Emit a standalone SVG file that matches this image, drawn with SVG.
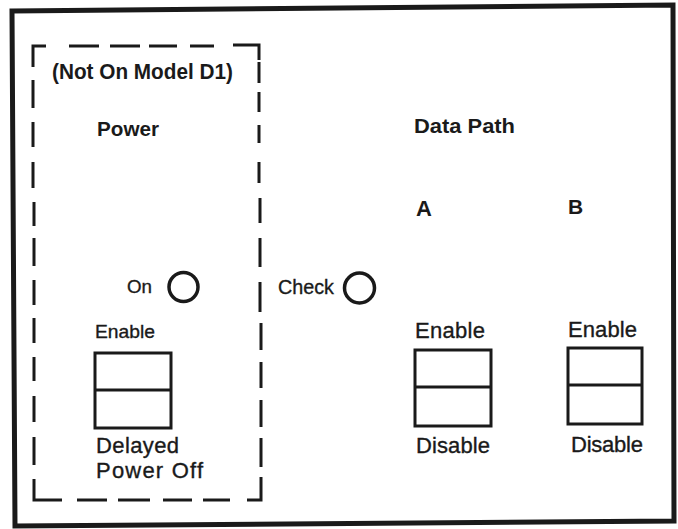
<svg xmlns="http://www.w3.org/2000/svg" width="678" height="529" viewBox="0 0 678 529">
<style>
.frame{fill:none;stroke:#1a1a1a;stroke-width:5;stroke-linejoin:miter}
.dash{fill:none;stroke:#1a1a1a;stroke-width:3;stroke-linecap:butt}
.sw{fill:#fff;stroke:#1a1a1a;stroke-width:3}
.lamp{fill:none;stroke:#1a1a1a;stroke-width:3.5}
.hd{font-family:"Liberation Sans",Arial,sans-serif;font-weight:bold;fill:#1a1a1a}
.lb{font-family:"Liberation Sans",Arial,sans-serif;fill:#1a1a1a;stroke:#1a1a1a;stroke-width:0.35}
</style>
<rect x="0" y="0" width="678" height="529" fill="#fff"/>
<path class="frame" d="M12,11 L673,5 L674,521 L15,526 Z"/>
<g id="power-section">
  <path class="dash" d="M33,67 V46 H46 M69,46 H99 M110,46 H140 M149,46 H177 M190,46 H214 M233,45 H259 V60
  M33,80 V108 M33,122 V147 M33,162 V188 M34,202 V226 M34,238 V266 M34,280 V305 M34,318 V343 M34,357 V381 M34,396 V422 M34,437 V465 M34,479 V500 H62
  M77,500 H107 M118,500 H150 M163,500 H192 M203,500 H230 M247,500 H261 V477
  M259,62 V83 M259,92 V112 M259,125 V143 M259,162 V183 M260,198 V223 M260,238 V267 M260,282 V312 M261,323 V350 M261,362 V388 M261,400 V427 M261,438 V467"/>
  <text class="hd" x="52" y="79" font-size="22" textLength="181" lengthAdjust="spacingAndGlyphs">(Not On Model D1)</text>
  <text class="hd" x="97" y="136" font-size="21" textLength="62" lengthAdjust="spacingAndGlyphs">Power</text>
  <g id="on-lamp">
    <text class="lb" x="127" y="293" font-size="18.5" textLength="25" lengthAdjust="spacingAndGlyphs">On</text>
    <circle class="lamp" cx="183.5" cy="287" r="14.5"/>
  </g>
  <g id="power-switch">
    <text class="lb" x="95" y="338" font-size="19" textLength="60" lengthAdjust="spacingAndGlyphs">Enable</text>
    <rect class="sw" x="95" y="353" width="76" height="75"/>
    <line class="sw" x1="95" y1="390" x2="171" y2="390"/>
    <text class="lb" x="96" y="453" font-size="22" textLength="83">Delayed</text>
    <text class="lb" x="96" y="478" font-size="22" textLength="107">Power Off</text>
  </g>
</g>
<g id="check-lamp">
  <text class="lb" x="278" y="294" font-size="20" textLength="56" lengthAdjust="spacingAndGlyphs">Check</text>
  <circle class="lamp" cx="359.5" cy="288" r="15"/>
</g>
<g id="data-path">
  <text class="hd" x="414" y="133" font-size="21" textLength="101" lengthAdjust="spacingAndGlyphs">Data Path</text>
  <g id="path-a">
    <text class="hd" x="416" y="216" font-size="22">A</text>
    <text class="lb" x="415" y="338" font-size="22" textLength="70">Enable</text>
    <rect class="sw" x="415" y="350" width="76" height="76"/>
    <line class="sw" x1="415" y1="387" x2="491" y2="387"/>
    <text class="lb" x="416" y="453" font-size="22" textLength="74">Disable</text>
  </g>
  <g id="path-b">
    <text class="hd" x="568" y="214" font-size="21">B</text>
    <text class="lb" x="568" y="337" font-size="22" textLength="69">Enable</text>
    <rect class="sw" x="568" y="348" width="74" height="76"/>
    <line class="sw" x1="568" y1="385" x2="642" y2="385"/>
    <text class="lb" x="571" y="452" font-size="22" textLength="72">Disable</text>
  </g>
</g>
</svg>
